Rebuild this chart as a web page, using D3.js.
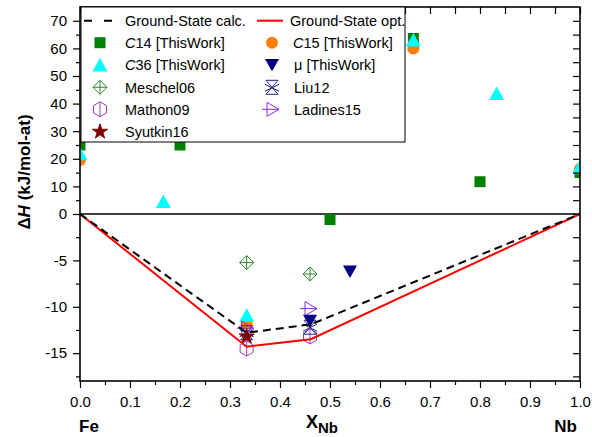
<!DOCTYPE html>
<html><head><meta charset="utf-8">
<script src="https://cdn.jsdelivr.net/npm/d3@7"></script>
<style>
body{margin:0;background:#fff;}
svg text{font-family:"Liberation Sans",Arial,sans-serif;}
</style></head>
<body><svg id="c" width="592" height="437"></svg>
<script>
// ---- data ----
const xTicks = [0,0.1,0.2,0.3,0.4,0.5,0.6,0.7,0.8,0.9,1.0];
const xMinor = [0.05,0.15,0.25,0.35,0.45,0.55,0.65,0.75,0.85,0.95];
const yTicks = [-15,-10,-5,0,10,20,30,40,50,60,70];
const yMinor = [-17.5,-12.5,-7.5,-2.5,5,15,25,35,45,55,65];

const gsCalcX = [0, 0.3333, 0.4615, 1.0];
const gsCalcY = [0, -12.8, -11.9, 0];
const gsOptX  = [0, 0.3333, 0.4615, 1.0];
const gsOptY  = [0, -14.3, -13.5, 0];

const c14X = [0.0, 0.2, 0.5, 0.6667, 0.8, 1.0];
const c14Y = [25.0, 25.0, -0.6, 63.6, 11.7, 15.0];
const c15X = [0.0, 0.3333, 0.6667, 1.0];
const c15Y = [19.6, -11.8, 60.0, 16.3];
const c36X = [0.0, 0.1667, 0.3333, 0.6667, 0.8333, 1.0];
const c36Y = [21.8, 4.5, -10.9, 63.0, 43.7, 17.2];
const muX = [0.46, 0.54];
const muY = [-11.5, -6.2];
const meschelX = [0.3333, 0.46];
const meschelY = [-5.24, -6.47];
const mathonX = [0.3333, 0.46];
const mathonY = [-14.5, -13.2];
const liuX = [0.3333, 0.46];
const liuY = [-12.8, -12.2];
const ladinesX = [0.3333, 0.46];
const ladinesY = [-12.3, -10.2];
const syutkinX = [0.3333];
const syutkinY = [-13.2];

// ---- setup ----
const svg = d3.select("#c");
const L = 80, R = 580, T = 7, B = 381;
const x = d3.scaleLinear().domain([0,1]).range([L,R]);
const y = d3.scaleLinear().domain([-18,0,75]).range([B,214,T]);

// symbols
const sym = {
  square: {d:"M-5.5,-5.5H5.5V5.5H-5.5Z", fill:"#008000", stroke:"none"},
  circle: {d:d3.symbol(d3.symbolCircle, Math.PI*36)(), fill:"#FF8000", stroke:"none"},
  triUp:  {d:"M0,-7L7.5,6.5H-7.5Z", fill:"#00FFFF", stroke:"none"},
  triDn:  {d:"M-7,-6H7L0,6.5Z", fill:"#000080", stroke:"none"},
  diam:   {d:"M0,-7L7,0L0,7L-7,0ZM0,-7V7M-7,0H7", fill:"none", stroke:"#2E8B2E"},
  hex:    {d:"M0,-7.5L6.5,-3.75L6.5,3.75L0,7.5L-6.5,3.75L-6.5,-3.75ZM0,-7.5V7.5", fill:"none", stroke:"#A040B0"},
  liu:    {d:"M-6,-7H6L-6,7H6ZM-7,-3L7,4M-7,4L7,-3", fill:"none", stroke:"#20208C"},
  lad:    {d:"M-5,-7L7,0L-5,7ZM-10,0H7", fill:"none", stroke:"#8A2BE2"},
  star:   {d:d3.symbol(d3.symbolStar, 70)(), fill:"#800000", stroke:"#800000"}
};

// clip
svg.append("defs").append("clipPath").attr("id","pc")
  .append("rect").attr("x",L).attr("y",T).attr("width",R-L).attr("height",B-T);

// zero line
svg.append("line").attr("x1",L).attr("x2",R).attr("y1",y(0)).attr("y2",y(0))
  .attr("stroke","#000").attr("stroke-width",1.6);

// markers
const plot = svg.append("g").attr("clip-path","url(#pc)");
function drawSeries(xs, ys, s){
  plot.append("g").selectAll("path").data(xs.map((v,i)=>[v,ys[i]])).join("path")
    .attr("d", sym[s].d)
    .attr("transform", d=>`translate(${x(d[0])},${y(d[1])})`)
    .attr("fill", sym[s].fill).attr("stroke", sym[s].stroke).attr("stroke-width",1);
}
drawSeries(c14X, c14Y, "square");
drawSeries(c15X, c15Y, "circle");
drawSeries(c36X, c36Y, "triUp");
drawSeries(meschelX, meschelY, "diam");
drawSeries(mathonX, mathonY, "hex");
drawSeries(liuX, liuY, "liu");
drawSeries(ladinesX, ladinesY, "lad");
drawSeries(syutkinX, syutkinY, "star");
drawSeries(muX, muY, "triDn");

// lines
const line = d3.line().x(d=>x(d[0])).y(d=>y(d[1]));
svg.append("path").datum(gsOptX.map((v,i)=>[v,gsOptY[i]])).attr("d",line)
  .attr("fill","none").attr("stroke","#FF0000").attr("stroke-width",2);
svg.append("path").datum(gsCalcX.map((v,i)=>[v,gsCalcY[i]])).attr("d",line)
  .attr("fill","none").attr("stroke","#000").attr("stroke-width",2).attr("stroke-dasharray","8,5");

// axes
const fs = "15px";
function styleAxis(g){ g.select(".domain").remove(); g.selectAll("line").attr("stroke","#000").attr("stroke-width",1.2); g.selectAll("text").attr("font-size",fs).attr("font-family","Liberation Sans, Arial").attr("fill","#000"); }
svg.append("g").attr("transform",`translate(0,${B})`)
  .call(d3.axisBottom(x).tickValues(xTicks).tickSize(7).tickPadding(8).tickFormat(d3.format(".1f"))).call(styleAxis);
svg.append("g").attr("transform",`translate(0,${B})`)
  .call(d3.axisBottom(x).tickValues(xMinor).tickSize(4).tickFormat("")).call(styleAxis);
svg.append("g").attr("transform",`translate(${L},0)`)
  .call(d3.axisLeft(y).tickValues(yTicks).tickSize(7).tickPadding(6).tickFormat(d=>String(d))).call(styleAxis);
svg.append("g").attr("transform",`translate(${L},0)`)
  .call(d3.axisLeft(y).tickValues(yMinor).tickSize(4).tickFormat("")).call(styleAxis);
// top / right mirror ticks
svg.append("g").attr("transform",`translate(0,${T})`)
  .call(d3.axisBottom(x).tickValues(xTicks.concat(xMinor)).tickSize(7).tickFormat("")).call(styleAxis);
svg.append("g").attr("transform",`translate(${R},0)`)
  .call(d3.axisLeft(y).tickValues(yTicks.concat(yMinor)).tickSize(7).tickFormat("")).call(styleAxis);
// frame
svg.append("rect").attr("x",L).attr("y",T).attr("width",R-L).attr("height",B-T)
  .attr("fill","none").attr("stroke","#000").attr("stroke-width",1.6);

// legend
const lg = svg.append("g");
lg.append("rect").attr("x",81).attr("y",T).attr("width",324).attr("height",135)
  .attr("fill","#fff").attr("stroke","#000").attr("stroke-width",1);
const rowY = [20.7, 42.7, 65, 87.3, 109.3, 131.7];
const lfs = "14.5px";
function ltext(tx, ty, parts){
  const t = lg.append("text").attr("x",tx).attr("y",ty).attr("dy","0.36em").attr("font-size",lfs).attr("fill","#000");
  parts.forEach(p=>{ const s=t.append("tspan").text(p[0]); if(p[1]) s.attr("font-style","italic"); });
}
function lsym(cx, cy, s){
  lg.append("path").attr("d",sym[s].d).attr("transform",`translate(${cx},${cy})`)
    .attr("fill",sym[s].fill).attr("stroke",sym[s].stroke).attr("stroke-width",1);
}
lg.append("line").attr("x1",84).attr("x2",112).attr("y1",rowY[0]).attr("y2",rowY[0])
  .attr("stroke","#000").attr("stroke-width",2).attr("stroke-dasharray","8,12");
ltext(125, rowY[0], [["Ground-State calc."]]);
lg.append("line").attr("x1",257).attr("x2",283).attr("y1",rowY[0]).attr("y2",rowY[0])
  .attr("stroke","#FF0000").attr("stroke-width",2);
ltext(290, rowY[0], [["Ground-State opt."]]);
lsym(100,rowY[1],"square"); ltext(125,rowY[1],[["C",1],["14 [ThisWork]"]]);
lsym(272,rowY[1],"circle"); ltext(293,rowY[1],[["C",1],["15 [ThisWork]"]]);
lsym(100,rowY[2],"triUp");  ltext(125,rowY[2],[["C",1],["36 [ThisWork]"]]);
lsym(272,rowY[2],"triDn");  ltext(294,rowY[2],[["μ [ThisWork]"]]);
lsym(100,rowY[3],"diam");   ltext(125,rowY[3],[["Meschel06"]]);
lsym(272,rowY[3],"liu");    ltext(294,rowY[3],[["Liu12"]]);
lsym(100,rowY[4],"hex");    ltext(125,rowY[4],[["Mathon09"]]);
lsym(272,rowY[4],"lad");    ltext(294,rowY[4],[["Ladines15"]]);
lsym(100,rowY[5],"star");   ltext(125,rowY[5],[["Syutkin16"]]);

// axis titles
const yt = svg.append("text").attr("transform","translate(30,172) rotate(-90)")
  .attr("text-anchor","middle").attr("font-size","17px").attr("font-weight","bold");
yt.append("tspan").text("Δ");
yt.append("tspan").text("H").attr("font-style","italic");
yt.append("tspan").text(" (kJ/mol-at)");

const xt = svg.append("text").attr("x",306).attr("y",428).attr("font-weight","bold");
xt.append("tspan").text("X").attr("font-size","18px");
xt.append("tspan").text("Nb").attr("font-size","15px").attr("dy","5");
svg.append("text").attr("x",79).attr("y",432).attr("font-size","17px").attr("font-weight","bold").text("Fe");
svg.append("text").attr("x",577).attr("y",432).attr("text-anchor","end").attr("font-size","17px").attr("font-weight","bold").text("Nb");
</script></body></html>
